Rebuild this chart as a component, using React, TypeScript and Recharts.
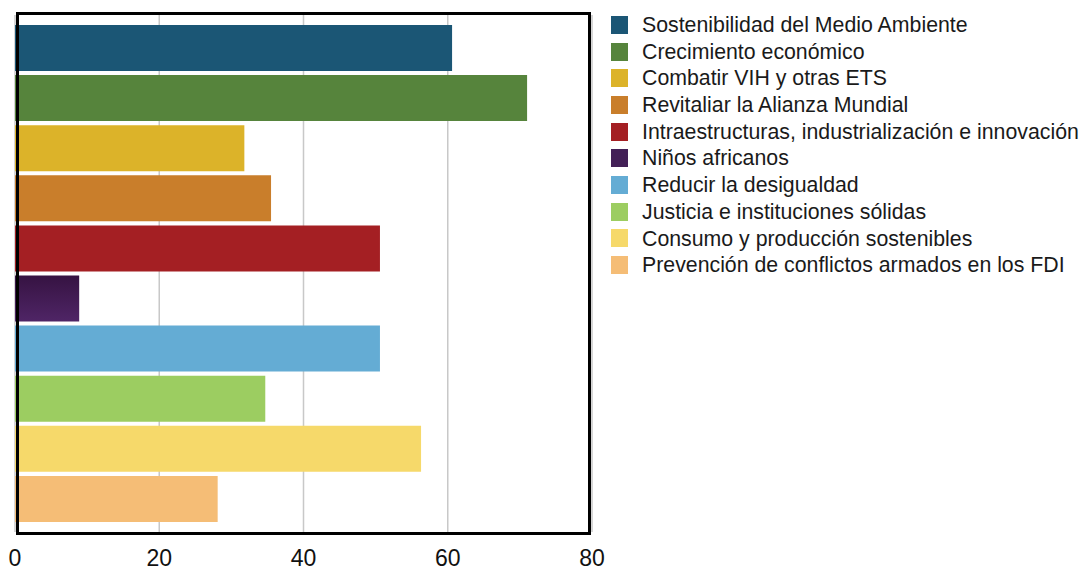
import React from "react";
import { BarChart, Bar, Cell, XAxis, YAxis, CartesianGrid } from "recharts";

const categories = [
  "Sostenibilidad del Medio Ambiente",
  "Crecimiento económico",
  "Combatir VIH y otras ETS",
  "Revitaliar la Alianza Mundial",
  "Intraestructuras, industrialización e innovación",
  "Niños africanos",
  "Reducir la desigualdad",
  "Justicia e instituciones sólidas",
  "Consumo y producción sostenibles",
  "Prevención de conflictos armados en los FDI",
];
const values = [60.6, 71.0, 31.8, 35.5, 50.6, 8.9, 50.6, 34.7, 56.3, 28.1];
const colors = [
  "#1b5675",
  "#56843c",
  "#dcb329",
  "#c97e2b",
  "#a41f23",
  "url(#ninosGrad)",
  "#64acd4",
  "#9ccd61",
  "#f6d96a",
  "#f5bd76",
];
const swatchColors = [
  "#1b5675",
  "#56843c",
  "#dcb329",
  "#c97e2b",
  "#a41f23",
  "#432057",
  "#64acd4",
  "#9ccd61",
  "#f6d96a",
  "#f5bd76",
];
const xTicks = [0, 20, 40, 60, 80];

const data = categories.map((name, i) => ({ name, value: values[i] }));

const font = '"Liberation Sans", Arial, Helvetica, sans-serif';

export default function App() {
  return (
    <div style={{ position: "absolute", left: 0, top: 0, width: 1082, height: 570, background: "#fff", fontFamily: font }}>
      <BarChart
        width={1082}
        height={570}
        data={data}
        layout="vertical"
        margin={{ top: 15, right: 490, bottom: 0, left: 15 }}
      >
        <defs>
          <linearGradient id="ninosGrad" x1="0" y1="0" x2="0" y2="1">
            <stop offset="0%" stopColor="#361342" />
            <stop offset="100%" stopColor="#4f2566" />
          </linearGradient>
        </defs>
        <CartesianGrid horizontal={false} stroke="#c8c8c8" strokeWidth={1.5} />
        <XAxis
          type="number"
          domain={[0, 80]}
          ticks={xTicks}
          axisLine={false}
          tickLine={false}
          height={38}
          tickMargin={12}
          interval={0}
          tick={{ fill: "#111", fontSize: 23, fontFamily: font }}
        />
        <YAxis type="category" dataKey="name" hide padding={{ top: 8, bottom: 8 }} />
        <Bar dataKey="value" barSize={46} isAnimationActive={false}>
          {data.map((d, i) => (
            <Cell key={d.name} fill={colors[i]} />
          ))}
        </Bar>
      </BarChart>
      <div
        style={{
          position: "absolute",
          left: 16,
          top: 12,
          width: 575,
          height: 523,
          boxSizing: "border-box",
          border: "3px solid #000",
          pointerEvents: "none",
        }}
      />
      <div style={{ position: "absolute", left: 611, top: 12 }}>
        {categories.map((c, i) => (
          <div key={c} style={{ display: "flex", alignItems: "center", height: 26.7, whiteSpace: "nowrap" }}>
            <div style={{ width: 17, height: 18, background: swatchColors[i], marginRight: 14, marginTop: -1 }} />
            <span style={{ fontSize: 21.3, lineHeight: "26.7px", color: "#1a1a1a" }}>{c}</span>
          </div>
        ))}
      </div>
    </div>
  );
}
